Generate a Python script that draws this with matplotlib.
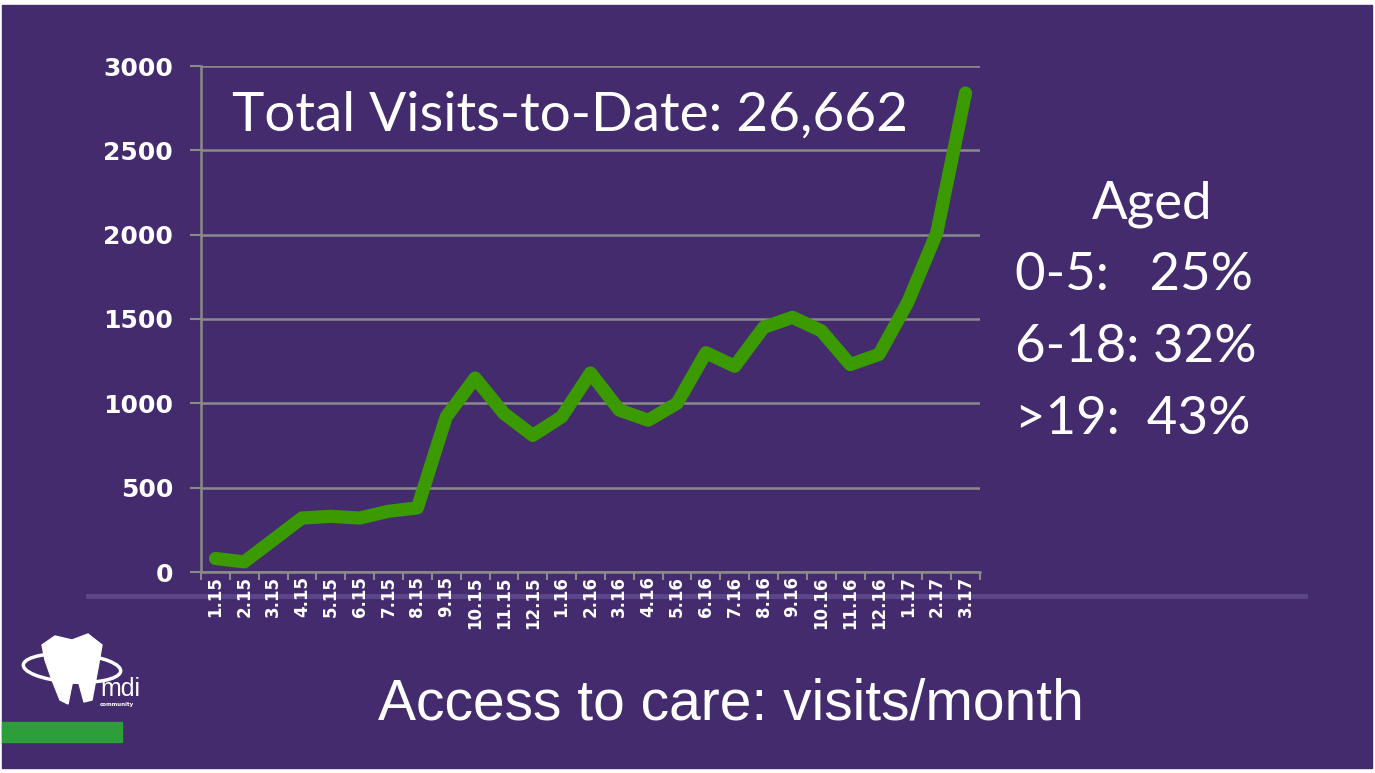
import matplotlib.pyplot as plt
import matplotlib.patches as mpatches
from matplotlib.lines import Line2D

months = ["1.15", "2.15", "3.15", "4.15", "5.15", "6.15", "7.15", "8.15", "9.15",
          "10.15", "11.15", "12.15", "1.16", "2.16", "3.16", "4.16", "5.16", "6.16",
          "7.16", "8.16", "9.16", "10.16", "11.16", "12.16", "1.17", "2.17", "3.17"]
visits = [80, 60, 190, 320, 330, 320, 360, 380, 920, 1150, 940, 810, 920, 1180,
          960, 900, 1000, 1300, 1220, 1450, 1510, 1430, 1230, 1290, 1600, 2010, 2840]
yticks = [0, 500, 1000, 1500, 2000, 2500, 3000]

title_text = "Total Visits-to-Date: 26,662"
age_head = "Aged"
age_lines = ["0-5:   25%", "6-18: 32%", ">19:  43%"]
footer = "Access to care: visits/month"

bg = "#432B6E"
grid_c = "#8A8A8A"
green = "#3A9A00"

W, H = 1375, 773
fig = plt.figure(figsize=(W / 100, H / 100), dpi=100, facecolor="white")

# slide background (thin white border like the screenshot)
fig.patches.append(mpatches.Rectangle((2 / W, 5 / H), (1372 - 2) / W, (768 - 5) / H,
                                      transform=fig.transFigure, color=bg, zorder=0))
# faint divider line
fig.lines.append(Line2D([88 / W, 1305 / W], [1 - 596 / H, 1 - 596 / H], transform=fig.transFigure,
                        color="#5A4688", lw=3.5, zorder=0.5))
# green bar bottom-left
fig.patches.append(mpatches.Rectangle((2 / W, 1 - 742 / H), 120 / W, 20 / H,
                                      transform=fig.transFigure, color="#2E9E3B", zorder=1))

ax = fig.add_axes([201 / W, 1 - 572 / H, (980 - 201) / W, (572 - 66) / H])
ax.set_zorder(5)
ax.set_facecolor("none")
x = range(len(months))
ax.plot(x, visits, color=green, lw=9.5, solid_capstyle="round", solid_joinstyle="round", zorder=3)

ax.set_xlim(-0.5, len(months) - 0.5)
ax.set_ylim(0, 3000)
ax.set_yticks(yticks)
ax.set_yticklabels([str(v) for v in yticks], fontsize=18, fontweight="bold", color="white")
ax.set_xticks(list(x))
ax.set_xticklabels(months, rotation=90, fontsize=12, fontweight="bold", color="white", va="top")
ax.set_xticks([i - 0.5 for i in range(len(months) + 1)], minor=True)
ax.tick_params(axis="x", which="major", length=0, pad=3)
ax.tick_params(axis="x", which="minor", length=6, width=1.5, color=grid_c)
ax.tick_params(axis="y", length=8, width=1.5, color=grid_c, pad=12)
ax.grid(axis="y", color=grid_c, lw=1.8, zorder=1)
for s in ["top", "right"]:
    ax.spines[s].set_visible(False)
for s in ["left", "bottom"]:
    ax.spines[s].set_color(grid_c)
    ax.spines[s].set_linewidth(1.8)

fig.text(232 / W, 1 - 131 / H, title_text, fontsize=39.5, color="white", family="Lato",
         va="baseline", ha="left", zorder=6)
fig.text(1152 / W, 1 - 218 / H, age_head, fontsize=38, color="white", family="Lato",
         va="baseline", ha="center")
for i, line in enumerate(age_lines):
    fig.text(1015 / W, 1 - (290 + i * 72) / H, line, fontsize=38, color="white", family="Lato",
             va="baseline", ha="left")
fig.text(731 / W, 1 - 720 / H, footer, fontsize=41, color="white", family="Liberation Sans",
         va="baseline", ha="center")

# rough logo: tooth with orbit ring and "mdi"
tooth = [(45, 660), (42, 645), (55, 636), (72, 640), (88, 634), (102, 645), (98, 668),
         (92, 700), (84, 702), (78, 680), (72, 684), (68, 704), (60, 700), (52, 680)]
fig.patches.append(mpatches.Polygon([(px / W, 1 - py / H) for px, py in tooth], closed=True,
                                    transform=fig.transFigure, color="white", zorder=2))
fig.patches.append(mpatches.Ellipse((72 / W, 1 - 668 / H), 98 / W, 28 / H, angle=-8,
                                    transform=fig.transFigure, fill=False, ec="white", lw=2.5, zorder=2))
fig.text(100 / W, 1 - 696 / H, "mdi", fontsize=18, color="white", family="Liberation Sans",
         va="baseline", ha="left")
fig.text(100 / W, 1 - 706 / H, "community", fontsize=4, color="white", fontweight="bold",
         va="baseline", ha="left")

fig.savefig("out.png", dpi=100, facecolor="white")
